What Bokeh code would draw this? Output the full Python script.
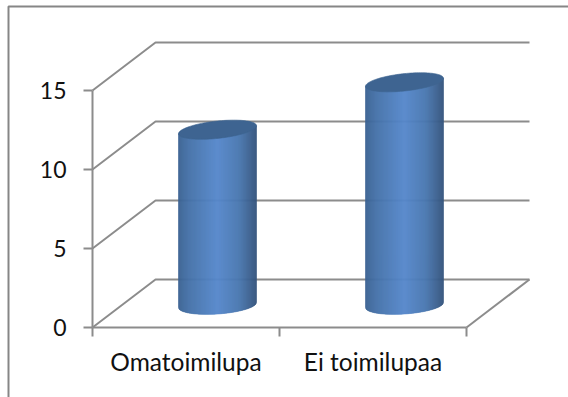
from bokeh.embed import file_html
from bokeh.models import FixedTicker, LinearAxis, Range1d
from bokeh.plotting import figure
from bokeh.resources import INLINE
import numpy as np

categories = ["Omatoimilupa", "Ei toimilupaa"]
values = [11, 14]
y_ticks = [0, 5, 10, 15]

# Pixel scale of the category and value axes
PX_PER_CATEGORY = 187.0
PX_PER_UNIT = 15.8
ORIGIN_PX = (92, 327)
WIDTH, HEIGHT = 568, 397

# Oblique depth of the pseudo-3D floor, in axis units
DEPTH_X = 63 / PX_PER_CATEGORY
DEPTH_Y = 48 / PX_PER_UNIT

GRID = "#8c8c8c"
FRAME = "#868686"
CAP = "#3e6491"
RADIUS = 39 / PX_PER_CATEGORY
STOPS = [0.0, 0.14, 0.5, 0.78, 1.0]
STOP_COLORS = [(58, 97, 145), (68, 113, 168), (85, 135, 203), (72, 118, 175), (52, 84, 125)]


def px_x(px):
    return (px - ORIGIN_PX[0]) / PX_PER_CATEGORY


def px_y(px):
    return (ORIGIN_PX[1] - px) / PX_PER_UNIT


p = figure(
    width=WIDTH, height=HEIGHT, output_backend="svg", toolbar_location=None,
    x_axis_type=None, y_axis_type=None, min_border=0,
    x_range=Range1d(px_x(0), px_x(WIDTH)), y_range=Range1d(px_y(HEIGHT), px_y(0)),
)
p.outline_line_color = None
p.grid.visible = False

# Outer chart border: only its top and left edges fall inside the canvas
p.line([px_x(8), px_x(8), px_x(WIDTH)], [px_y(HEIGHT), px_y(6), px_y(6)], line_color=FRAME, line_width=2)

# Back wall gridlines and their diagonals down to the value axis
for v in y_ticks:
    p.line([0, DEPTH_X, 2 + DEPTH_X], [v, v + DEPTH_Y, v + DEPTH_Y], line_color=GRID, line_width=2)
p.line([2, 2 + DEPTH_X], [0, DEPTH_Y], line_color=GRID, line_width=2)

# Each cylinder is a stack of thin shaded strips capped by a sheared ellipse
theta = np.linspace(0, 2 * np.pi, 121)
for i, v in enumerate(values):
    cx = i + 0.5 + DEPTH_X / 2
    base = DEPTH_Y / 2
    edges = np.linspace(-1, 1, 79)
    for a, b in zip(edges[:-1], edges[1:]):
        mid = (a + b) / 2
        shade = (mid + 1) / 2
        rgb = [int(round(np.interp(shade, STOPS, [c[k] for c in STOP_COLORS]))) for k in range(3)]
        color = "#%02x%02x%02x" % tuple(rgb)
        xs = np.linspace(a, b, 4)
        lower = base + (2.6 * xs - 1.5 - 9 * np.sqrt(np.clip(1 - xs ** 2, 0, 1))) / PX_PER_UNIT
        upper = v + base + 4 * xs / PX_PER_UNIT
        px = cx + xs * RADIUS
        strip_x = np.concatenate([px, px[::-1]])
        strip_y = np.concatenate([lower, upper[::-1]])
        p.patch(strip_x, strip_y, fill_color=color, line_color=color, line_width=0.6)
    cap_x = cx + RADIUS * np.cos(theta)
    cap_y = v + base + (4 * np.cos(theta) + 8.7 * np.sin(theta)) / PX_PER_UNIT
    p.patch(cap_x, cap_y, fill_color=CAP, line_color=CAP, line_width=0.6)

y_axis = LinearAxis(
    ticker=FixedTicker(ticks=y_ticks), fixed_location=0, bounds=(0, 15),
    axis_line_color=GRID, axis_line_width=2,
    major_tick_line_color=GRID, major_tick_line_width=2,
    major_tick_in=0, major_tick_out=9, minor_tick_out=0, minor_tick_in=0,
    major_label_text_font="Lato", major_label_text_font_size="23px",
    major_label_text_color="#111111", major_label_standoff=17,
)
p.add_layout(y_axis, "left")

x_axis = LinearAxis(
    ticker=FixedTicker(ticks=[0.5, 1.5], minor_ticks=[0, 1, 2]), fixed_location=0, bounds=(0, 2),
    axis_line_color=GRID, axis_line_width=2,
    major_tick_line_color=None, major_tick_in=0, major_tick_out=0,
    minor_tick_line_color=GRID, minor_tick_line_width=2, minor_tick_in=0, minor_tick_out=9,
    major_label_overrides={0.5: categories[0], 1.5: categories[1]},
    major_label_text_font="Lato", major_label_text_font_size="24.5px",
    major_label_text_color="#111111", major_label_standoff=10,
)
p.add_layout(x_axis, "below")

open("out.html", "w").write(file_html(p, INLINE))
